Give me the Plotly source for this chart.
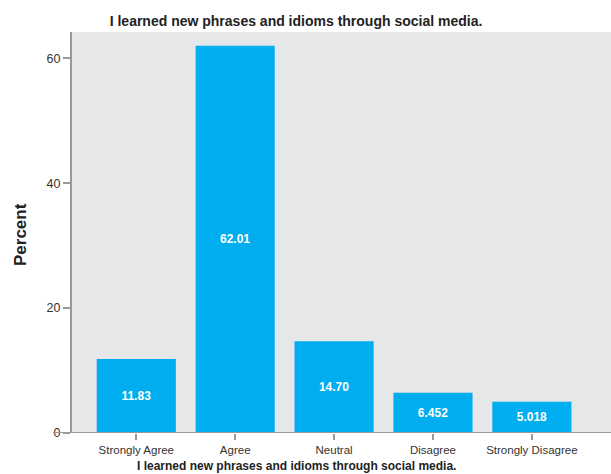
import plotly.graph_objects as go

# Survey responses for the item
categories = ["Strongly Agree", "Agree", "Neutral", "Disagree", "Strongly Disagree"]
percent_labels = ["11.83", "62.01", "14.70", "6.452", "5.018"]
percent_values = [float(v) for v in percent_labels]
y_ticks = [0, 20, 40, 60]

title_text = "I learned new phrases and idioms through social media."
FONT = "Liberation Sans Narrow, Arial Narrow, Liberation Sans, Arial, sans-serif"
BAR = "#00AEEF"
AXIS = "#9a9a9a"

W, H = 611, 474
L, R, T, B = 72, 0, 32, 41
pw, ph = W - L - R, H - T - B


def px_x(x):
    return (x - L) / pw


def px_y(y):
    return (H - B - y) / ph


fig = go.Figure(
    go.Bar(
        x=categories,
        y=percent_values,
        text=percent_labels,
        textposition="inside",
        insidetextanchor="middle",
        textangle=0,
        textfont=dict(family=FONT, size=12, color="white", weight="bold"),
        marker=dict(color=BAR, line=dict(width=0)),
        hoverinfo="skip",
    )
)

fig.update_layout(
    width=W,
    height=H,
    margin=dict(l=L, r=R, t=T, b=B, pad=0),
    paper_bgcolor="white",
    plot_bgcolor="#E6E7E9",
    bargap=0.2,
    showlegend=False,
    font=dict(family=FONT, size=12, color="#333333"),
    title=dict(
        text=title_text,
        font=dict(family=FONT, size=14, color="#222222", weight="bold"),
        x=296 / W,
        xref="container",
        xanchor="center",
        y=1 - 21 / H,
        yref="container",
        yanchor="middle",
    ),
)

fig.update_xaxes(
    type="category",
    range=[-0.65, 4.8],
    showgrid=False,
    showline=False,
    zeroline=False,
    ticks="outside",
    ticklen=6,
    tickwidth=1.5,
    tickcolor=AXIS,
    tickfont=dict(family=FONT, size=11.5, color="#333333"),
)

fig.update_yaxes(
    range=[0, 64.2],
    tickvals=y_ticks,
    showgrid=False,
    zeroline=False,
    showline=True,
    linecolor=AXIS,
    linewidth=2,
    ticks="outside",
    ticklen=7,
    tickwidth=1.5,
    tickcolor=AXIS,
    tickfont=dict(family=FONT, size=12.5, color="#333333"),
)

# Baseline extends a little past the value axis
fig.add_shape(
    type="line",
    xref="paper",
    yref="y",
    x0=px_x(53),
    x1=1,
    y0=0,
    y1=0,
    line=dict(color=AXIS, width=2),
    layer="above",
)

# Axis titles
fig.add_annotation(
    text=title_text,
    xref="paper",
    yref="paper",
    x=px_x(296),
    y=px_y(466),
    xanchor="center",
    yanchor="middle",
    showarrow=False,
    font=dict(family=FONT, size=12, color="#222222", weight="bold"),
)
fig.add_annotation(
    text="Percent",
    xref="paper",
    yref="paper",
    x=px_x(20),
    y=px_y(235),
    xanchor="center",
    yanchor="middle",
    textangle=-90,
    showarrow=False,
    font=dict(family=FONT, size=17, color="#222222", weight="bold"),
)

fig.write_html("out.html")
